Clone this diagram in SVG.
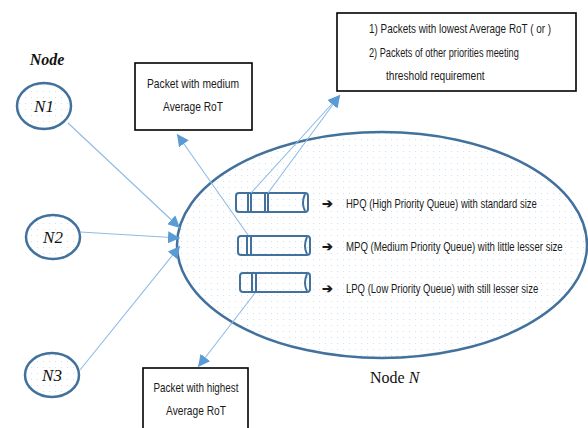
<svg xmlns="http://www.w3.org/2000/svg" width="588" height="428" viewBox="0 0 588 428">
<defs>
<pattern id="dots" width="6" height="6" patternUnits="userSpaceOnUse">
<rect width="6" height="6" fill="#ffffff"/>
<circle cx="1.5" cy="1.5" r="0.6" fill="#c9dcef"/>
</pattern>
<marker id="ah" markerUnits="userSpaceOnUse" markerWidth="12" markerHeight="12" viewBox="0 0 10 10" refX="10" refY="5" orient="auto">
<path d="M0,0 L10,5 L0,10 z" fill="#5b9bd5"/>
</marker>
</defs>
<style>
.nd{fill:url(#dots);stroke:#41719c;stroke-width:2.5}
.box{fill:#ffffff;stroke:#000000;stroke-width:1.6}
.cn{fill:none;stroke:#8dbbe6;stroke-width:1.1;marker-end:url(#ah)}
.q{fill:none;stroke:#41719c;stroke-width:2}
.t{font-family:"Liberation Sans",Arial,sans-serif;font-size:13px;fill:#1a1a1a}
.s{font-family:"Liberation Serif","Times New Roman",serif;fill:#111111}
</style>
<g id="nodeN">
<ellipse class="nd" cx="382" cy="245" rx="205" ry="113"/>
<text class="s" x="370" y="383" font-size="16">Node <tspan font-style="italic">N</tspan></text>
</g>
<g id="node-label"><text class="s" x="47" y="65" font-size="16" font-style="italic" font-weight="bold" text-anchor="middle">Node</text></g>
<g id="N1">
<ellipse class="nd" cx="44" cy="106" rx="27" ry="23"/>
<text class="s" x="44" y="112" font-size="17" font-style="italic" text-anchor="middle">N1</text>
</g>
<g id="N2">
<ellipse class="nd" cx="53" cy="237" rx="27" ry="22"/>
<text class="s" x="53" y="243" font-size="17" font-style="italic" text-anchor="middle">N2</text>
</g>
<g id="N3">
<ellipse class="nd" cx="52" cy="375" rx="27" ry="22"/>
<text class="s" x="52" y="381" font-size="17" font-style="italic" text-anchor="middle">N3</text>
</g>
<g id="HPQ">
<rect class="q" x="236" y="193" width="72" height="19" rx="3"/>
<path class="q" d="M305,194 q-4,9 0,17"/>
<path class="q" d="M248,193 v19 M251,193 v19 M265,193 v19 M268,193 v19"/>
<text class="t" x="322" y="208" font-weight="bold">➔</text>
<text class="t" transform="translate(346,208) scale(0.72,1)" x="0" y="0" textLength="265" lengthAdjust="spacingAndGlyphs">HPQ (High Priority Queue) with standard size</text>
</g>
<g id="MPQ">
<rect class="q" x="238" y="236" width="72" height="19" rx="3"/>
<path class="q" d="M307,237 q-4,9 0,17"/>
<path class="q" d="M247,236 v19 M251,236 v19"/>
<text class="t" x="322" y="251" font-weight="bold">➔</text>
<text class="t" transform="translate(346,251) scale(0.72,1)" x="0" y="0" textLength="301" lengthAdjust="spacingAndGlyphs">MPQ (Medium Priority Queue) with little lesser size</text>
</g>
<g id="LPQ">
<rect class="q" x="240" y="273" width="70" height="19" rx="3"/>
<path class="q" d="M307,274 q-4,9 0,17"/>
<path class="q" d="M252,273 v19 M256,273 v19"/>
<text class="t" x="322" y="293" font-weight="bold">➔</text>
<text class="t" transform="translate(346,293) scale(0.72,1)" x="0" y="0" textLength="267" lengthAdjust="spacingAndGlyphs">LPQ (Low Priority Queue) with still lesser size</text>
</g>
<g id="box-medium">
<rect class="box" x="135" y="63" width="117" height="67"/>
<text class="t" transform="translate(193,88) scale(0.72,1)" text-anchor="middle" textLength="128" lengthAdjust="spacingAndGlyphs">Packet with medium</text>
<text class="t" transform="translate(193,111) scale(0.72,1)" text-anchor="middle" textLength="83" lengthAdjust="spacingAndGlyphs">Average RoT</text>
</g>
<g id="box-lowest">
<rect class="box" x="337" y="13" width="239" height="78"/>
<text class="t" transform="translate(369,33) scale(0.72,1)" textLength="253" lengthAdjust="spacingAndGlyphs">1)   Packets with lowest Average RoT  ( or )</text>
<text class="t" transform="translate(369,57) scale(0.72,1)" textLength="208" lengthAdjust="spacingAndGlyphs">2)   Packets of other priorities meeting</text>
<text class="t" transform="translate(386,80) scale(0.72,1)" textLength="137" lengthAdjust="spacingAndGlyphs">threshold requirement</text>
</g>
<g id="box-highest">
<rect class="box" x="143" y="368" width="105" height="70"/>
<text class="t" transform="translate(196,392) scale(0.72,1)" text-anchor="middle" textLength="118" lengthAdjust="spacingAndGlyphs">Packet with highest</text>
<text class="t" transform="translate(196,415) scale(0.72,1)" text-anchor="middle" textLength="83" lengthAdjust="spacingAndGlyphs">Average RoT</text>
</g>
<g id="connectors">
<path class="cn" d="M68,123 L180,228"/>
<path class="cn" d="M80,232 L180,238"/>
<path class="cn" d="M80,370 L180,246"/>
<path class="cn" d="M248,235 L177,134"/>
<path class="cn" d="M251,193 L340,95"/>
<path class="cn" d="M268,193 L340,95"/>
<path class="cn" d="M255,293 L198,367"/>
</g>
</svg>
